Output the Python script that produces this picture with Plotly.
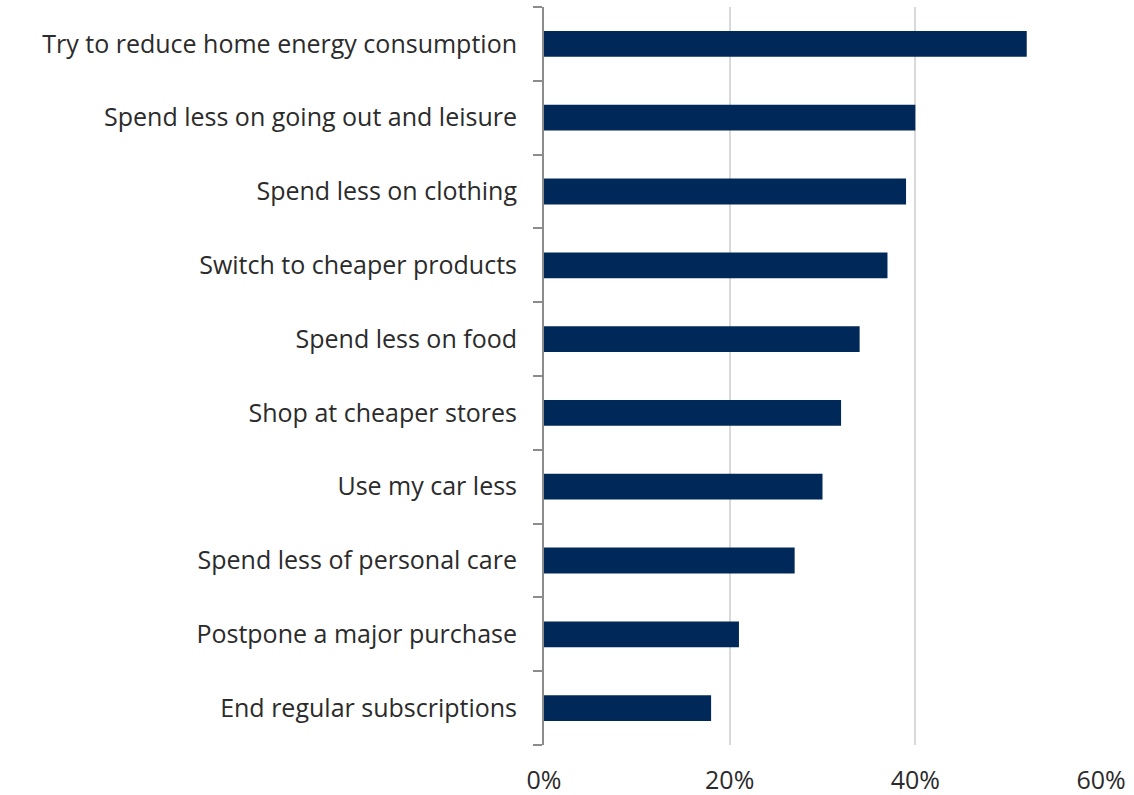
import plotly.graph_objects as go

categories = [
    "Try to reduce home energy consumption",
    "Spend less on going out and leisure",
    "Spend less on clothing",
    "Switch to cheaper products",
    "Spend less on food",
    "Shop at cheaper stores",
    "Use my car less",
    "Spend less of personal care",
    "Postpone a major purchase",
    "End regular subscriptions",
]
values = [52, 40, 39, 37, 34, 32, 30, 27, 21, 18]
tick_vals = [0, 20, 40, 60]
tick_text = ["0%", "20%", "40%", "60%"]

fig = go.Figure(go.Bar(
    x=values,
    y=categories,
    orientation="h",
    marker=dict(color="#002858", line=dict(width=0)),
    hoverinfo="x+y",
))

fig.update_layout(
    width=1134, height=795,
    margin=dict(l=544, r=33, t=7, b=50),
    paper_bgcolor="white", plot_bgcolor="white",
    font=dict(family="Open Sans", size=25, color="#2b2b2b"),
    bargap=0.65,
    showlegend=False,
)
fig.update_xaxes(
    range=[0, 60], automargin=False,
    tickvals=tick_vals, ticktext=tick_text,
    showgrid=True, gridcolor="#d9d9d9", gridwidth=2,
    zeroline=False, showline=False, ticks="",
    ticklabelstandoff=18,
)
fig.update_yaxes(
    categoryorder="array", categoryarray=categories[::-1],
    automargin=False,
    showline=True, linecolor="#8c8c8c", linewidth=2,
    ticks="outside", tickson="boundaries", ticklen=9, tickcolor="#8c8c8c", tickwidth=2,
    ticklabelstandoff=20,
    showgrid=False, zeroline=False,
)

fig.write_html(
    "out.html",
    config={"displayModeBar": False},
    post_script="document.body.style.margin='0';document.body.style.overflow='hidden';",
)
